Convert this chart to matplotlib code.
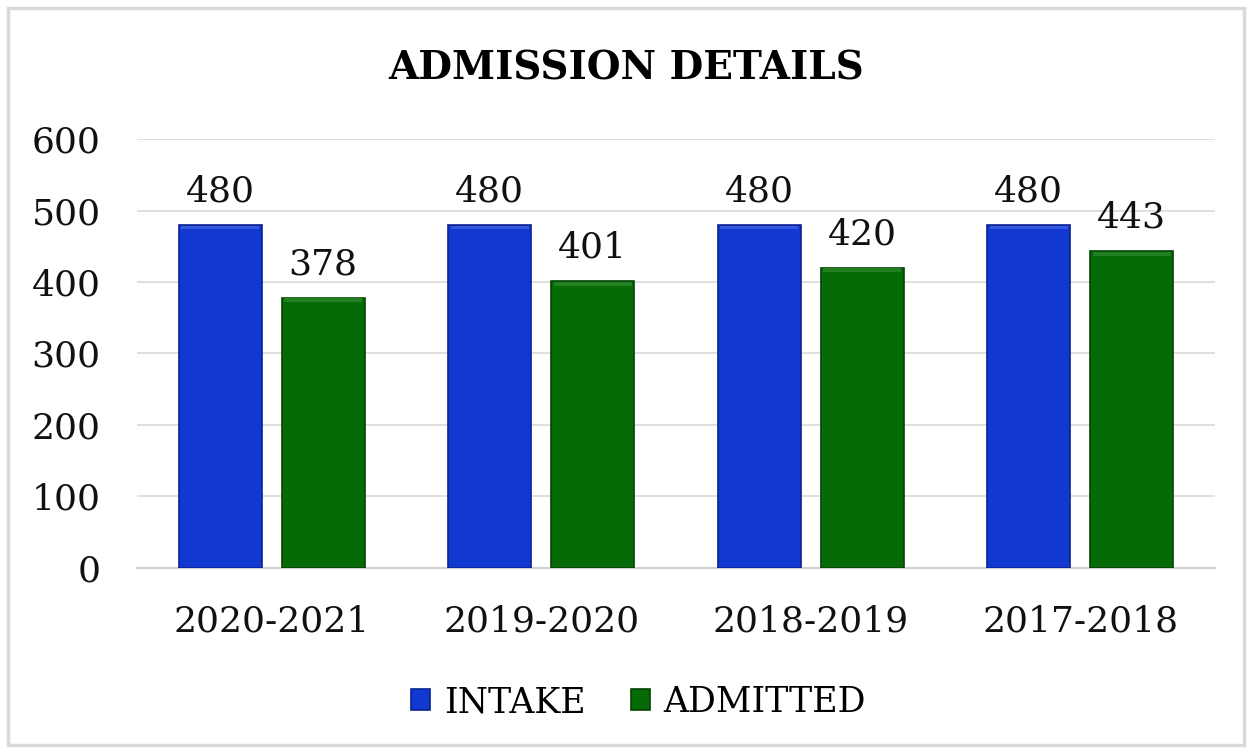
import matplotlib.pyplot as plt
import numpy as np
from matplotlib.patches import Rectangle

years = ['2020-2021', '2019-2020', '2018-2019', '2017-2018']
intake = [480, 480, 480, 480]
admitted = [378, 401, 420, 443]

plt.rcParams['font.family'] = ['DejaVu Serif']

fig = plt.figure(figsize=(12.52, 7.51), dpi=100)
ax = fig.add_axes([0.1094, 0.2437, 0.8611, 0.5712])

x = np.arange(len(years))
w = 0.308
off = 0.191

def bevel_bars(pos, vals, face, edge, light, label):
    bars = ax.bar(pos, vals, w, color=face, edgecolor=edge, linewidth=1.2,
                  label=label, zorder=3)
    # lighter strip on top of each bar for a bevelled look
    ax.bar(pos, [5] * len(vals), w * 0.94, bottom=[v - 6 for v in vals],
           color=light, linewidth=0, zorder=4)
    for b, v in zip(bars, vals):
        ax.annotate(str(v), (b.get_x() + b.get_width() / 2, v),
                    xytext=(0, 12), textcoords='offset points',
                    ha='center', va='bottom', fontsize=26, color='#111111')
    return bars

bevel_bars(x - off, intake, '#1238D2', '#0B2390', '#3459E0', 'INTAKE')
bevel_bars(x + off, admitted, '#066B06', '#034503', '#228022', 'ADMITTED')

ax.set_xlim(-0.5, 3.5)
ax.set_ylim(0, 600)
ax.set_yticks(range(0, 601, 100))
ax.set_xticks(x)
ax.set_xticklabels(years)
ax.tick_params(axis='both', length=0, labelsize=26, colors='#111111')
ax.tick_params(axis='x', pad=26)
ax.tick_params(axis='y', pad=26)
ax.grid(axis='y', color='#D9D9D9', linewidth=1.2, zorder=0)
for s in ['top', 'right', 'left']:
    ax.spines[s].set_visible(False)
ax.spines['bottom'].set_color('#D0D0D0')
ax.spines['bottom'].set_linewidth(1.5)

fig.suptitle('ADMISSION DETAILS', y=0.934, fontsize=28, fontweight='bold')

ax.legend(loc='center', bbox_to_anchor=(0.51, 0.065),
          bbox_transform=fig.transFigure, ncol=2, frameon=False,
          fontsize=25, handlelength=0.55, handleheight=0.55,
          handletextpad=0.4, columnspacing=1.3)

fig.patches.append(Rectangle((0.0065, 0.008), 0.987, 0.982,
                             transform=fig.transFigure, fill=False,
                             edgecolor='#D9D9D9', linewidth=2.5))

fig.savefig('out.png', dpi=100)
